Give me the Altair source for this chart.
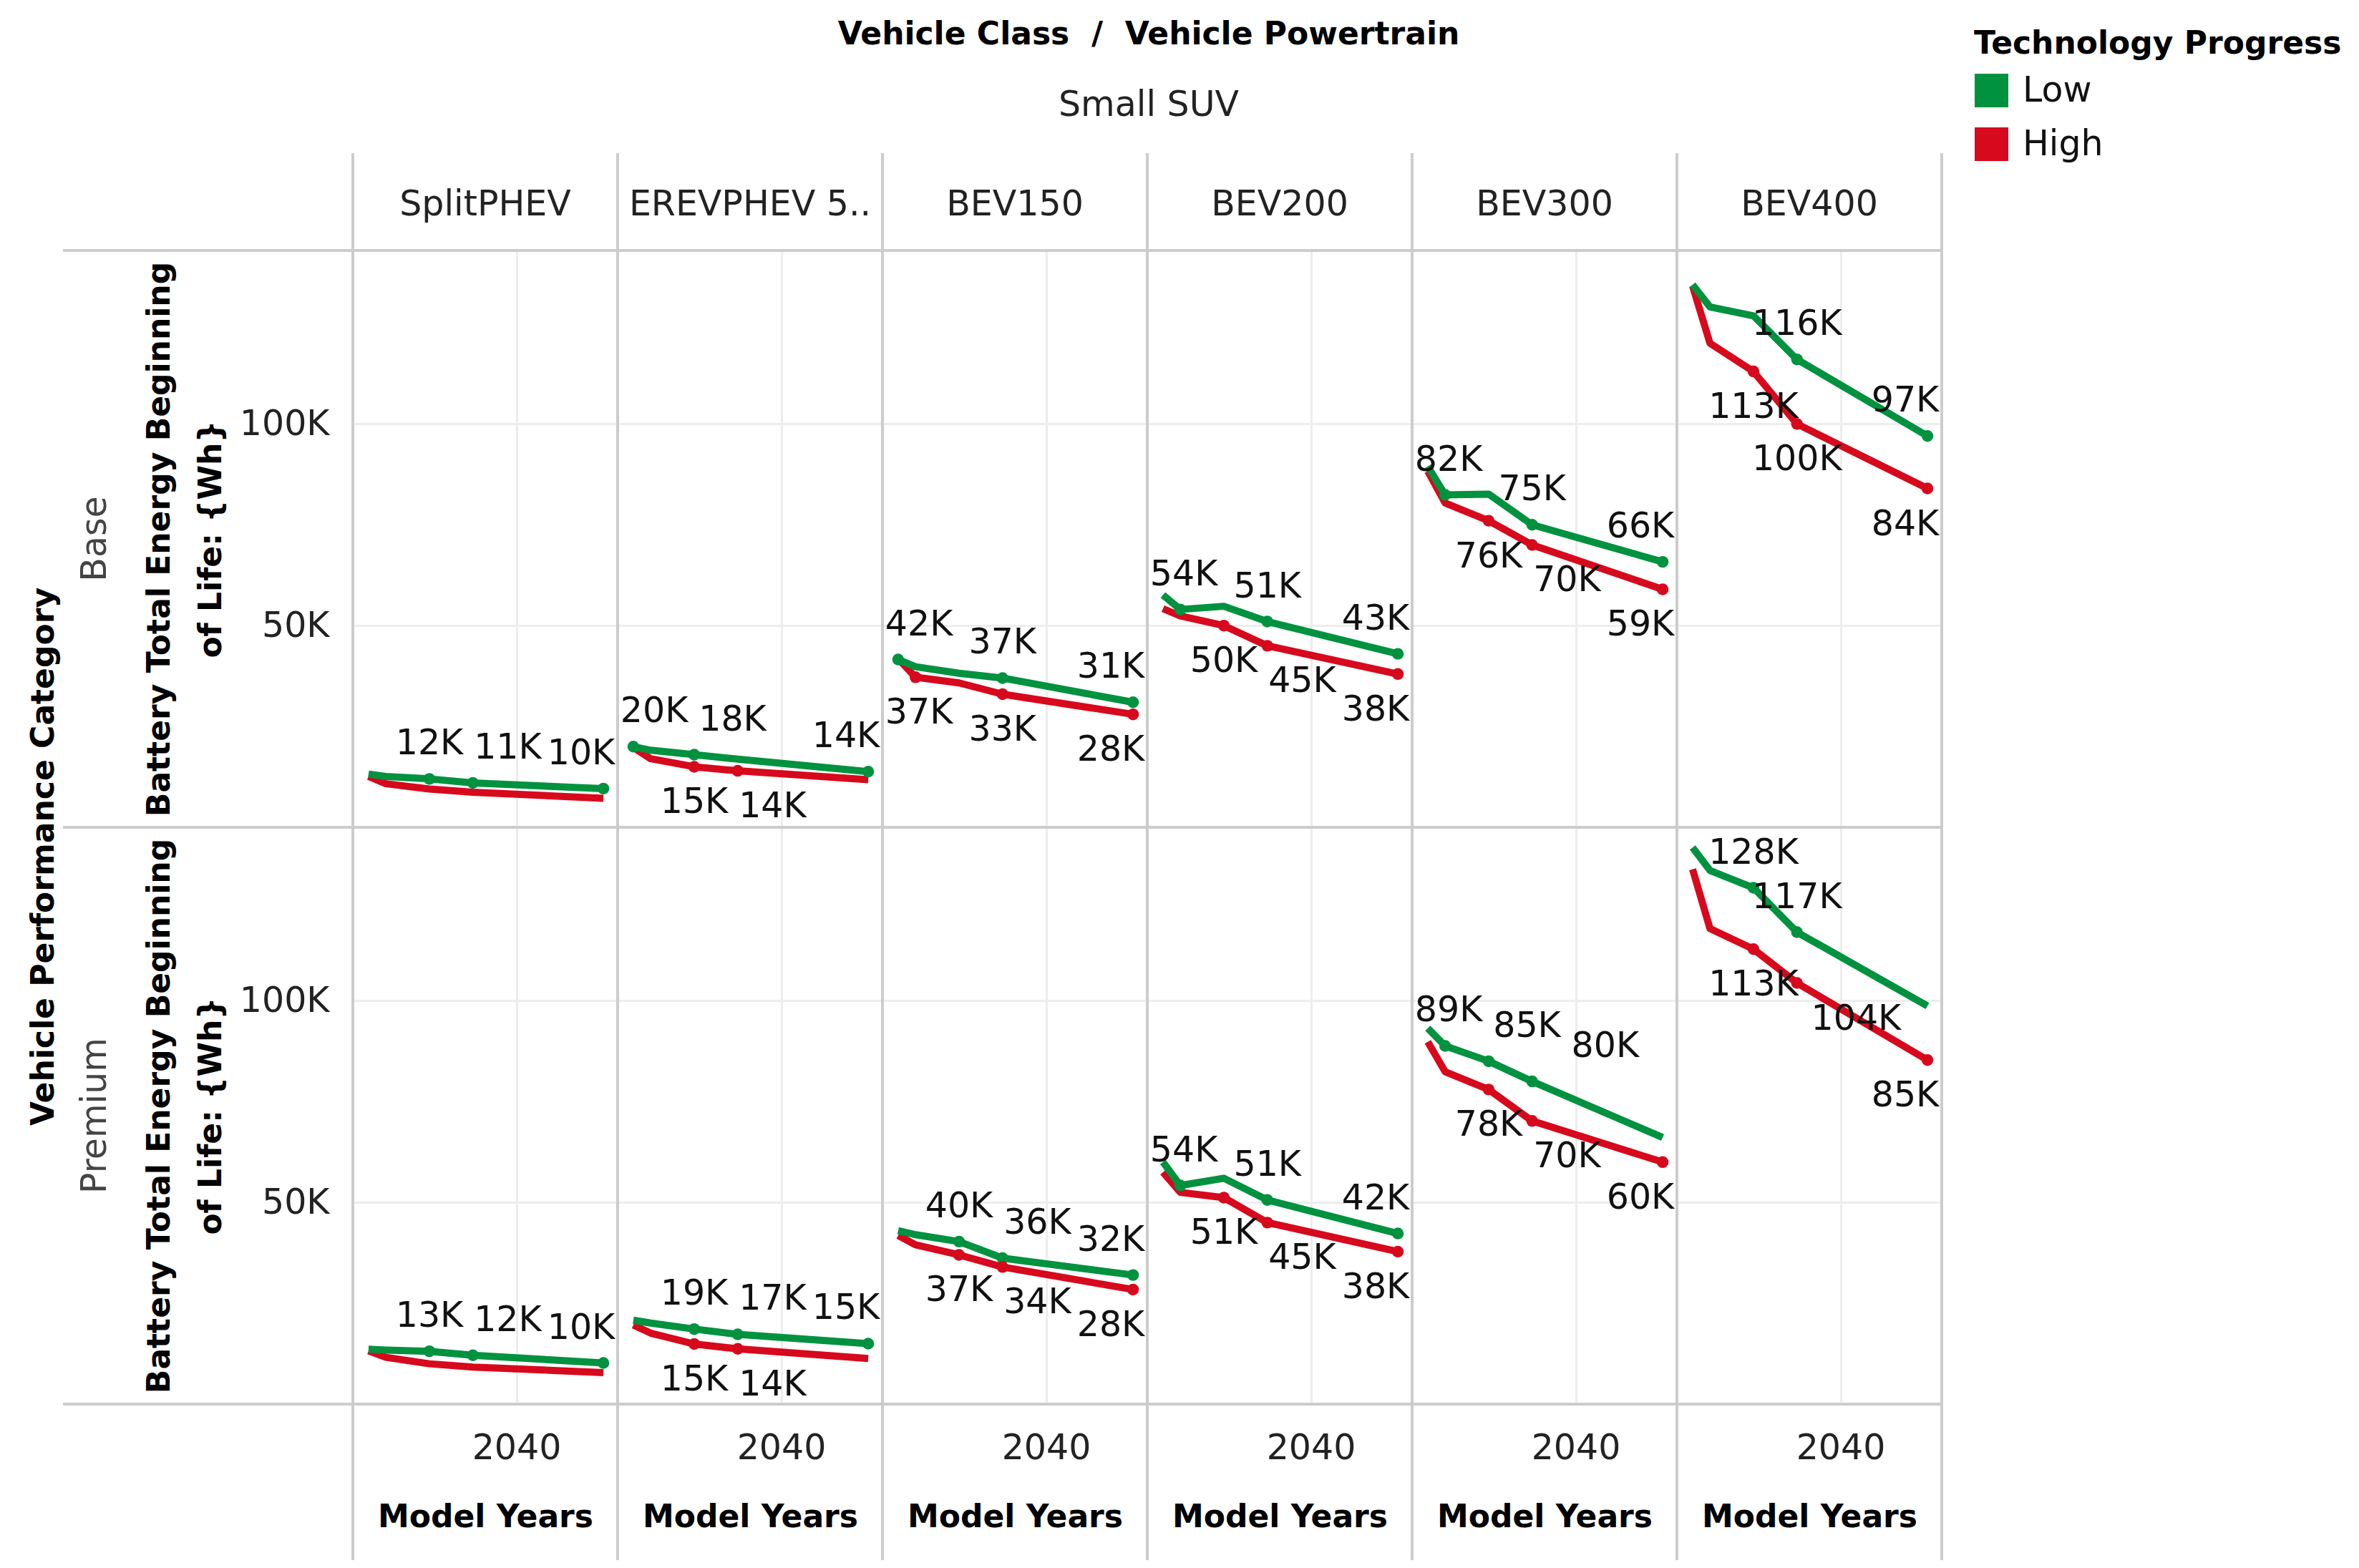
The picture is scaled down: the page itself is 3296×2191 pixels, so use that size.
import altair as alt
import pandas as pd

years = [2023, 2025, 2030, 2035, 2050]
powertrains = ["SplitPHEV", "EREVPHEV 5..", "BEV150", "BEV200", "BEV300", "BEV400"]
categories = ["Base", "Premium"]
progress = ["Low", "High"]

# Battery total energy (thousands of Wh) per powertrain (rows) and model year (columns)
base_low = [
    [13.2, 12.6, 12.0, 11.0, 9.6],
    [20.0, 19.1, 18.0, 16.9, 13.8],
    [41.6, 39.8, 38.2, 37.0, 31.0],
    [57.6, 54.0, 54.8, 51.0, 43.0],
    [89.5, 82.4, 82.6, 75.0, 65.8],
    [134.5, 129.0, 126.8, 116.0, 97.0],
]
base_high = [
    [12.6, 10.8, 9.5, 8.7, 7.2],
    [19.8, 17.0, 15.0, 14.0, 11.8],
    [41.8, 37.2, 35.8, 33.0, 28.0],
    [54.2, 52.4, 50.0, 45.0, 38.0],
    [88.3, 80.4, 76.0, 70.0, 59.0],
    [134.2, 120.0, 113.0, 100.0, 84.0],
]
premium_low = [
    [13.6, 13.4, 13.1, 12.1, 10.2],
    [20.8, 20.1, 18.6, 17.3, 15.0],
    [43.0, 42.0, 40.3, 36.2, 32.0],
    [60.0, 54.2, 56.0, 50.6, 42.3],
    [93.2, 88.8, 85.0, 80.0, 66.1],
    [138.0, 132.3, 128.0, 117.0, 98.7],
]
premium_high = [
    [13.2, 11.6, 10.0, 9.2, 7.8],
    [19.6, 17.6, 14.9, 13.7, 11.3],
    [41.8, 39.5, 37.0, 34.0, 28.4],
    [57.5, 52.5, 51.2, 45.0, 37.8],
    [89.8, 82.4, 78.0, 70.2, 60.0],
    [132.6, 117.9, 112.8, 104.4, 85.3],
]
# 1 = the point carries a value label (and marker) in the reference
base_low_lab = [
    [0, 0, 1, 1, 1],
    [1, 0, 1, 0, 1],
    [1, 0, 0, 1, 1],
    [0, 1, 0, 1, 1],
    [0, 1, 0, 1, 1],
    [0, 0, 0, 1, 1],
]
base_high_lab = [
    [0, 0, 0, 0, 0],
    [0, 0, 1, 1, 0],
    [0, 1, 0, 1, 1],
    [0, 0, 1, 1, 1],
    [0, 0, 1, 1, 1],
    [0, 0, 1, 1, 1],
]
premium_low_lab = [
    [0, 0, 1, 1, 1],
    [0, 0, 1, 1, 1],
    [0, 0, 1, 1, 1],
    [0, 1, 0, 1, 1],
    [0, 1, 1, 1, 0],
    [0, 0, 1, 1, 0],
]
premium_high_lab = [
    [0, 0, 0, 0, 0],
    [0, 0, 1, 1, 0],
    [0, 0, 1, 1, 1],
    [0, 0, 1, 1, 1],
    [0, 0, 1, 1, 1],
    [0, 0, 1, 1, 1],
]

series = [
    ("Base", "Low", base_low, base_low_lab),
    ("Base", "High", base_high, base_high_lab),
    ("Premium", "Low", premium_low, premium_low_lab),
    ("Premium", "High", premium_high, premium_high_lab),
]
rows = []
for cat, lev, vals, labs in series:
    for i, pt in enumerate(powertrains):
        for j, yr in enumerate(years):
            rows.append({"cat": cat, "level": lev, "pt": pt, "year": yr,
                         "energy": vals[i][j] * 1000, "lab": labs[i][j]})
df = pd.DataFrame(rows)

FONT = "DejaVu Sans"
GREEN = "#00923F"
RED = "#D7091C"
GRID_LINE = "#cccccc"
X0, X1 = 2021.2, 2051.64
W, H = 370, 806

color_scale = alt.Scale(domain=progress, range=[GREEN, RED])
x_scale = alt.Scale(domain=[X0, X1], nice=False, zero=False)

x_enc = alt.X("year:Q", scale=x_scale,
              axis=alt.Axis(values=[2040], format="d", title="Model Years"))
y_enc = alt.Y("energy:Q", scale=alt.Scale(domain=[0, 143000], nice=False),
              axis=alt.Axis(values=[50000, 100000],
                            labelExpr="format(datum.value/1000, 'd') + 'K'",
                            title=["Battery Total Energy Beginning", "of Life: {Wh}"]))

# Tableau-like divider lines that run through the header bands
div_v_left = alt.Chart().mark_rule(color=GRID_LINE, strokeWidth=3).encode(
    x=alt.value(0), y=alt.value(-136), y2=alt.value(H + 218))
div_v_right = alt.Chart().mark_rule(color=GRID_LINE, strokeWidth=3).encode(
    x=alt.value(W), y=alt.value(-136), y2=alt.value(H + 218))
div_h_top = alt.Chart().mark_rule(color=GRID_LINE, strokeWidth=3).encode(
    x=alt.value(-405), x2=alt.value(W), y=alt.value(0))
div_h_bot = alt.Chart().mark_rule(color=GRID_LINE, strokeWidth=3).encode(
    x=alt.value(-405), x2=alt.value(W), y=alt.value(H))

line_high = alt.Chart().transform_filter(alt.datum.level == "High").mark_line(
    strokeWidth=10, strokeJoin="round", color=RED).encode(x=x_enc, y=y_enc)
line_low = alt.Chart().transform_filter(alt.datum.level == "Low").mark_line(
    strokeWidth=10, strokeJoin="round", color=GREEN).encode(x=x_enc, y=y_enc)

points = alt.Chart().transform_filter(alt.datum.lab == 1).mark_circle(
    size=270, opacity=1).encode(
    x=x_enc, y=y_enc,
    color=alt.Color("level:N", scale=color_scale, sort=progress,
                    legend=alt.Legend(title="Technology Progress", orient="none",
                                      legendX=2265, legendY=-310,
                                      symbolType="square", symbolSize=2209,
                                      symbolStrokeWidth=0, symbolOpacity=1,
                                      labelFont=FONT, labelFontSize=49, labelColor="#111",
                                      labelOffset=19, rowPadding=25,
                                      titleFont=FONT, titleFontSize=44,
                                      titleFontWeight="bold", titleColor="#000",
                                      titlePadding=18, titleLimit=800, labelLimit=400)))


def text_layer(level, dy):
    grp = ["cat", "pt", "level"]
    srt = [alt.SortField("year", order="ascending")]
    near = "isValid(datum.pe) && abs(datum.energy - datum.pe) < 9000"
    return alt.Chart().transform_filter(
        (alt.datum.lab == 1) & (alt.datum.level == level)
    ).transform_calculate(
        label="format(datum.energy/1000, '.0f') + 'K'"
    ).transform_calculate(
        hw="length(datum.label) * 1.4"
    ).transform_calculate(
        lx1=f"clamp(datum.year, {X0} + datum.hw, {X1} - datum.hw)"
    ).transform_window(
        plx1="lag(lx1)", pe="lag(energy)", phw="lag(hw)", groupby=grp, sort=srt
    ).transform_calculate(
        lx2=f"{near} ? max(datum.lx1, datum.plx1 + datum.phw + datum.hw + 0.6) : datum.lx1"
    ).transform_window(
        plx2="lag(lx2)", groupby=grp, sort=srt
    ).transform_calculate(
        lx3=f"{near} ? max(datum.lx2, datum.plx2 + datum.phw + datum.hw + 0.6) : datum.lx2"
    ).transform_calculate(
        lx=f"min(datum.lx3, {X1} - datum.hw)"
    ).mark_text(font=FONT, fontSize=49, color="#111", dy=dy, baseline="middle").encode(
        x=alt.X("lx:Q", scale=x_scale),
        y=y_enc, text="label:N")


layered = alt.layer(div_v_left, div_v_right, div_h_top, div_h_bot,
                    line_high, line_low, points,
                    text_layer("Low", -49), text_layer("High", 50),
                    data=df).properties(width=W, height=H)

chart = layered.facet(
    row=alt.Row("cat:N", sort=categories, title="Vehicle Performance Category",
                header=alt.Header(labelAngle=270, labelOrient="left", titleOrient="left",
                                  titleAngle=270, labelFont=FONT, labelFontSize=49,
                                  labelColor="#444", titleFont=FONT, titleFontSize=44,
                                  titleFontWeight="bold", titleColor="#000",
                                  labelPadding=-6, titlePadding=-29)),
    column=alt.Column("pt:N", sort=powertrains, title=None,
                      header=alt.Header(labelOrient="top",
                                        labelFont=FONT, labelFontSize=49, labelColor="#222",
                                        labelPadding=39)),
    spacing=0,
    bounds="flush",
).properties(
    title=alt.TitleParams("Vehicle Class\u00a0 /\u00a0 Vehicle Powertrain", font=FONT,
                          fontSize=44, fontWeight="bold", color="#000",
                          subtitle="Small SUV", subtitleFont=FONT, subtitleFontSize=49,
                          subtitleFontWeight="normal", subtitleColor="#222",
                          subtitlePadding=52,
                          anchor="middle", dx=-51, offset=-132),
    padding={"left": 31, "top": 19, "right": 0, "bottom": 0},
).configure_view(
    stroke=GRID_LINE, strokeWidth=3
).configure_axis(
    labelFont=FONT, labelFontSize=49, labelColor="#222", ticks=False, domain=False,
    grid=True, gridColor="#ededed", gridWidth=3,
    titleFont=FONT, titleFontSize=44, titleFontWeight="bold", titleColor="#000",
).configure_axisY(
    labelPadding=33, titlePadding=17, titleLineHeight=72, titleAngle=270
).configure_axisX(
    labelPadding=37, titlePadding=50
)

chart.save("out.html", embed_options={"renderer": "svg", "actions": False})
